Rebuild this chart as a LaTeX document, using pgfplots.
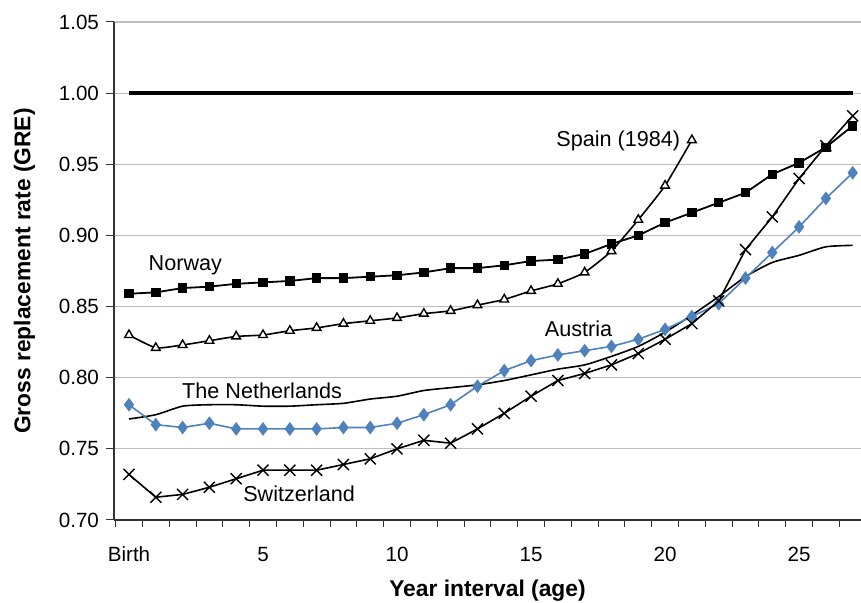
\documentclass[border=0pt]{standalone}
\usepackage{pgfplots}
\pgfplotsset{compat=1.18}
\usepackage{fontspec}
\setmainfont{Liberation Sans}
\definecolor{austriablue}{HTML}{4F81BD}
\definecolor{gridgrey}{HTML}{BEBEBE}
\tikzset{lbl/.style={anchor=base west, inner sep=0pt, font=\fontsize{10.8}{13}\selectfont}}
\pgfplotstableread{
x norway spain austria swiss neth
0 0.859 0.830 0.781 0.732 0.771
1 0.860 0.821 0.767 0.716 0.774
2 0.863 0.823 0.765 0.718 0.780
3 0.864 0.826 0.768 0.723 0.781
4 0.866 0.829 0.764 0.729 0.781
5 0.867 0.830 0.764 0.735 0.780
6 0.868 0.833 0.764 0.735 0.780
7 0.870 0.835 0.764 0.735 0.781
8 0.870 0.838 0.765 0.739 0.782
9 0.871 0.840 0.765 0.743 0.785
10 0.872 0.842 0.768 0.750 0.787
11 0.874 0.845 0.774 0.756 0.791
12 0.877 0.847 0.781 0.754 0.793
13 0.877 0.851 0.794 0.764 0.795
14 0.879 0.855 0.805 0.775 0.798
15 0.882 0.861 0.812 0.787 0.802
16 0.883 0.866 0.816 0.798 0.806
17 0.887 0.874 0.819 0.803 0.809
18 0.894 0.889 0.822 0.809 0.815
19 0.900 0.911 0.827 0.817 0.822
20 0.909 0.935 0.834 0.827 0.832
21 0.916 0.967 0.843 0.838 0.844
22 0.923 nan 0.852 0.854 0.857
23 0.930 nan 0.870 0.890 0.871
24 0.943 nan 0.888 0.913 0.881
25 0.951 nan 0.906 0.940 0.886
26 0.962 nan 0.926 0.963 0.892
27 0.977 nan 0.944 0.984 0.893
}\datatable
\begin{document}
\begin{tikzpicture}
\useasboundingbox (-57pt,-41.5pt) rectangle (373.5pt,260pt);
\begin{axis}[
  at={(0,0)}, anchor=south west,
  scale only axis,
  width=373.5pt, height=249pt,
  xmin=-0.56, xmax=27.31,
  ymin=0.70, ymax=1.05,
  axis x line*=bottom,
  axis y line*=left,
  axis line style={line width=0.6pt, black!80},
  xtick={0,5,10,15,20,25},
  xticklabels={Birth,5,10,15,20,25},
  minor xtick={-0.5,0.5,...,27.5},
  ytick={0.70,0.75,...,1.05},
  tick align=outside,
  major x tick style={draw=none},
  minor tick length=3.5pt,
  major tick length=4pt,
  every tick/.style={black!80, line width=0.5pt},
  ymajorgrids,
  major grid style={gridgrey, line width=0.6pt},
  tick label style={font=\fontsize{10.3}{12}\selectfont},
  /pgf/number format/assume math mode=true,
  yticklabel style={/pgf/number format/.cd, fixed, fixed zerofill, precision=2},
  xticklabel style={yshift=-6pt},
  xlabel={\bfseries Year interval (age)},
  ylabel={\bfseries Gross replacement rate (GRE)},
  label style={font=\fontsize{11.4}{13}\selectfont},
  xlabel style={yshift=-2pt},
  ylabel style={yshift=5pt},
  clip=false,
  unbounded coords=jump,
]
\addplot[black, line width=2pt, mark=none] coordinates {(0,1.00) (27,1.00)};
\addplot[black, line width=0.8pt, smooth, tension=0.4, mark=none] table[x=x,y=neth] {\datatable};
\addplot[black, line width=0.9pt, mark=square*, mark size=1.9pt, mark options={fill=black}] table[x=x,y=norway] {\datatable};
\addplot[black, line width=0.8pt, smooth, tension=0.3, mark=triangle*, mark size=2.5pt, mark options={fill=white, line width=0.7pt}] table[x=x,y=spain] {\datatable};
\addplot[austriablue, line width=0.8pt, mark=diamond*, mark size=2.8pt, mark options={fill=austriablue}] table[x=x,y=austria] {\datatable};
\addplot[black, line width=0.8pt, mark=x, mark size=3.9pt, mark options={line width=0.7pt}] table[x=x,y=swiss] {\datatable};
\node[lbl] at (axis cs:0.72,0.8752) {Norway};
\node[lbl] at (axis cs:15.93,0.9626) {Spain (1984)};
\node[lbl] at (axis cs:15.50,0.8287) {Austria};
\node[lbl] at (axis cs:1.97,0.7854) {The Netherlands};
\node[lbl] at (axis cs:4.25,0.7130) {Switzerland};
\end{axis}
\end{tikzpicture}
\end{document}
